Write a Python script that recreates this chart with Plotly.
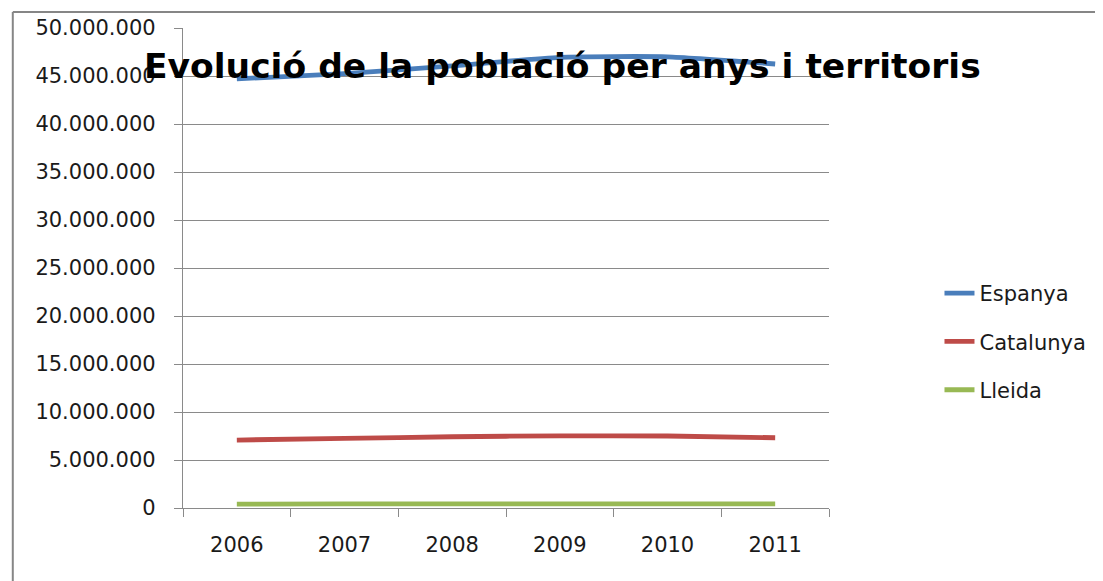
import plotly.graph_objects as go

years = ["2006", "2007", "2008", "2009", "2010", "2011"]
espanya = [44700000, 45250000, 46050000, 46950000, 47000000, 46250000]
catalunya = [7080000, 7250000, 7420000, 7520000, 7500000, 7320000]
lleida = [410000, 420000, 430000, 440000, 440000, 440000]

series_names = ["Espanya", "Catalunya", "Lleida"]
series_vals = [espanya, catalunya, lleida]
colors = ["#4A7EBB", "#BE4B48", "#98B954"]

# page body has an 8px default margin: work in page pixels, shift by it
OFF = 8
W, H = 1103 - OFF, 581 - OFF
L, R, T, B = 183 - OFF, 832 - OFF, 28 - OFF, 508 - OFF

fig = go.Figure()
for name, vals, c in zip(series_names, series_vals, colors):
    fig.add_trace(go.Scatter(
        x=years, y=vals, name=name, mode="lines",
        line=dict(color=c, width=4.8, shape="spline", smoothing=0.5),
        legendgroup=name,
    ))

def px2x(px):
    return (px - OFF - L) / (R - L)

def py2y(py):
    return (B - (py - OFF)) / (B - T)

FONT = "DejaVu Sans"

fig.update_layout(
    width=W, height=H,
    margin=dict(l=L, r=W - R, t=T, b=H - B, pad=0),
    paper_bgcolor="white", plot_bgcolor="white",
    separators=",.",
    font=dict(family=FONT, size=21, color="#1a1a1a"),
    showlegend=True,
    legend=dict(
        x=px2x(943), y=py2y(273), xanchor="left", yanchor="top",
        bgcolor="rgba(0,0,0,0)", font=dict(family=FONT, size=21, color="#1a1a1a"),
        tracegroupgap=18, traceorder="grouped", itemwidth=30,
    ),
    xaxis=dict(
        type="category", range=[-0.5, 5.5], automargin=False,
        showgrid=False, showline=True, linecolor="#8a8a8a",
        linewidth=1.3, ticks="outside", tickson="boundaries", ticklen=8,
        tickcolor="#8a8a8a", tickwidth=1.3, ticklabelstandoff=18,
        tickfont=dict(family=FONT, size=21, color="#1a1a1a"), zeroline=False,
    ),
    yaxis=dict(
        range=[0, 50000000], tick0=0, dtick=5000000, tickformat=",d",
        automargin=False,
        showgrid=True, gridcolor="#8a8a8a", gridwidth=1.1,
        showline=True, linecolor="#8a8a8a", linewidth=1.3,
        ticks="outside", ticklen=8, tickcolor="#8a8a8a", tickwidth=1.3,
        ticklabelstandoff=14, zeroline=False,
        tickfont=dict(family=FONT, size=21, color="#1a1a1a"),
    ),
    annotations=[dict(
        text="<b>Evolució de la població per anys i territoris</b>",
        xref="paper", yref="paper", x=px2x(564), y=py2y(66),
        xanchor="center", yanchor="middle", showarrow=False,
        font=dict(family=FONT, size=34.5, color="#000000"),
    )],
    shapes=[
        dict(type="line", xref="paper", yref="paper",
             x0=px2x(12), x1=px2x(1110), y0=py2y(12), y1=py2y(12),
             line=dict(color="#868686", width=2)),
        dict(type="line", xref="paper", yref="paper",
             x0=px2x(12), x1=px2x(12), y0=py2y(12), y1=py2y(590),
             line=dict(color="#868686", width=2)),
    ],
)

fig.write_html("out.html")
